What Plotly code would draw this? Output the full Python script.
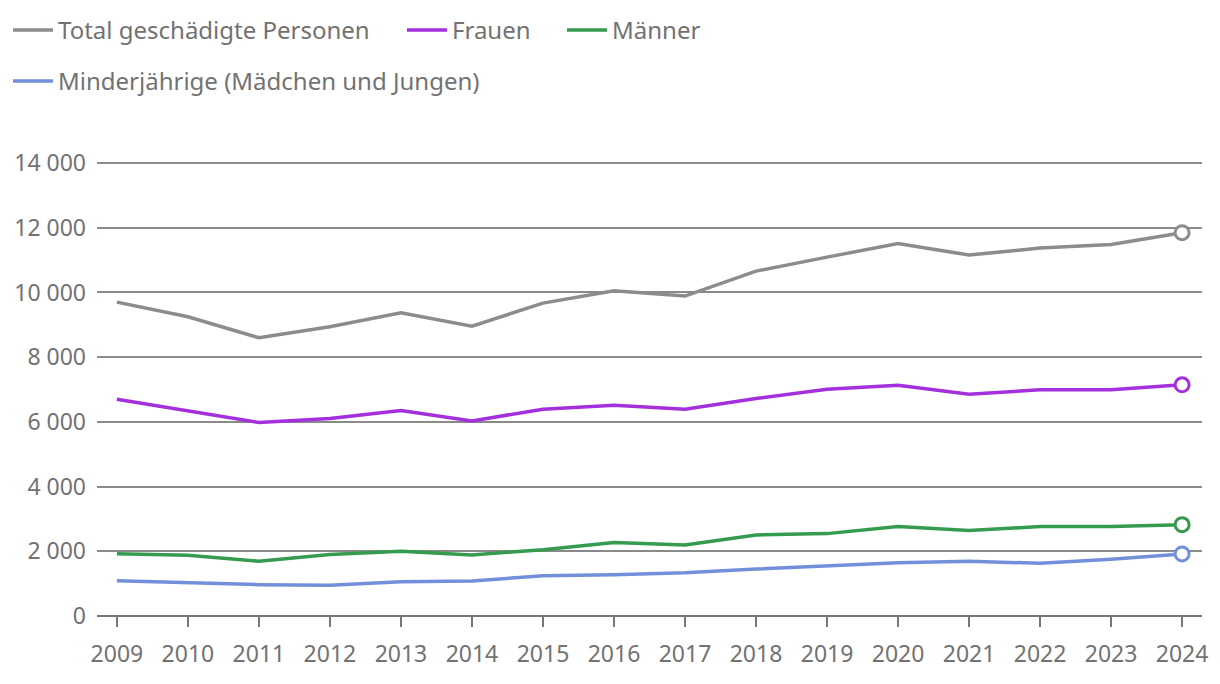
import plotly.graph_objects as go

years = list(range(2009, 2025))
total = [9700, 9248, 8598, 8938, 9372, 8958, 9670, 10050, 9887, 10659, 11092, 11515, 11154, 11371, 11485, 11846]
frauen = [6702, 6340, 5980, 6103, 6351, 6031, 6392, 6516, 6392, 6722, 7010, 7134, 6856, 6990, 6990, 7145]
maenner = [1926, 1876, 1691, 1897, 2000, 1886, 2051, 2268, 2195, 2505, 2546, 2763, 2639, 2763, 2763, 2824]
minder = [1091, 1030, 968, 948, 1060, 1081, 1245, 1276, 1338, 1453, 1555, 1648, 1691, 1629, 1753, 1917]

series = [
    ("Total geschädigte Personen", total, "#8c8c8c", "legend"),
    ("Frauen", frauen, "#a330dc", "legend2"),
    ("Männer", maenner, "#359b4f", "legend3"),
    ("Minderjährige (Mädchen und Jungen)", minder, "#7290da", "legend4"),
]

FONT = "Noto Sans, Open Sans, sans-serif"
TXT = "#727272"
W, H = 1220, 684

fig = go.Figure()
for name, vals, col, lg in series:
    fig.add_trace(go.Scatter(
        x=years, y=vals, name=name, mode="lines",
        line=dict(color=col, width=3.5), legend=lg,
    ))
for name, vals, col, lg in series:
    fig.add_trace(go.Scatter(
        x=[years[-1]], y=[vals[-1]], mode="markers", showlegend=False,
        marker=dict(symbol="circle", size=14, color="white",
                    line=dict(color=col, width=3)),
        hoverinfo="skip",
    ))


def leg(px, py):
    return dict(
        orientation="h", xref="container", yref="container",
        x=px / W, y=1 - py / H, xanchor="left", yanchor="top",
        font=dict(size=24, color=TXT, family=FONT),
        itemwidth=40,
        bgcolor="rgba(0,0,0,0)",
    )


fig.update_layout(
    width=W, height=H,
    margin=dict(l=89, r=26, t=151, b=76),
    paper_bgcolor="white", plot_bgcolor="white",
    font=dict(family=FONT, color=TXT, size=24),
    separators=", ",
    legend=leg(0, 0),
    legend2=leg(394, 0),
    legend3=leg(554, 0),
    legend4=leg(0, 51),
    xaxis=dict(
        range=[2008.72, 2024.28], tickmode="linear", dtick=1, tickformat="d",
        showgrid=False, zeroline=False, automargin=False,
        ticks="outside", ticklen=10, tickwidth=1.5, tickcolor="#777777",
        showline=False, ticklabelstandoff=7,
        tickfont=dict(size=23, color=TXT),
    ),
    yaxis=dict(
        range=[0, 14124], tickmode="linear", dtick=2000, tickformat=",d",
        showgrid=True, gridcolor="#8a8a8a", gridwidth=1.5,
        zeroline=True, zerolinecolor="#777777", zerolinewidth=1.5,
        showline=False, ticks="", ticklabelstandoff=10, automargin=False,
        tickfont=dict(size=23, color=TXT),
    ),
    showlegend=True,
)

fig.write_html("out.html")
